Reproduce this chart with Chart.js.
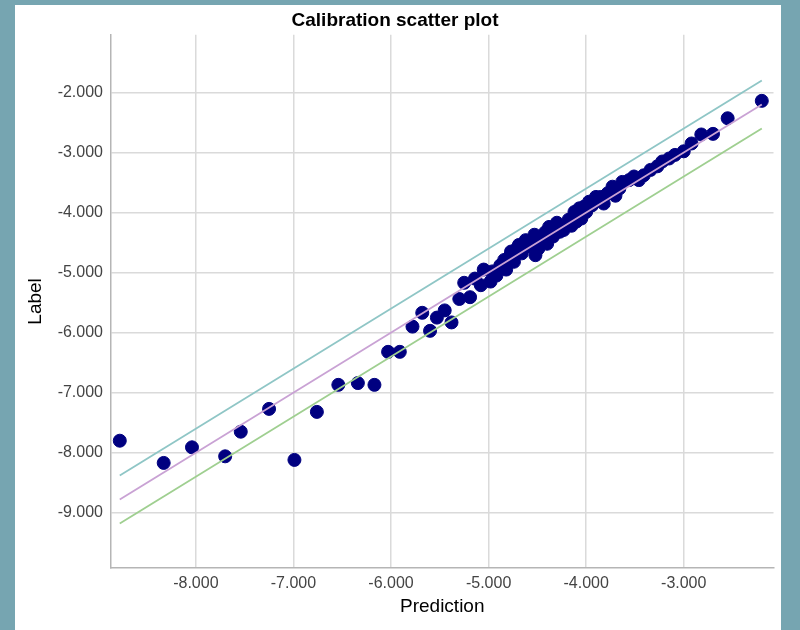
<!DOCTYPE html>
<html><head><meta charset="utf-8">
<script src="https://cdn.jsdelivr.net/npm/chart.js@4.4.1/dist/chart.umd.min.js"></script>
<style>
html,body{margin:0;padding:0;background:#76a5b1;width:800px;height:630px;overflow:hidden}
#panel{position:absolute;left:15px;top:5px;width:766px;height:625px;background:#fff}
canvas{display:block}
</style></head><body>
<div id="panel"><canvas id="c" width="766" height="625"></canvas></div>
<script>
const predictions = [
 -8.78,-8.33,-8.04,-7.70,-7.54,-7.25,-6.99,-6.76,-6.54,-6.34,-6.17,-6.03,-5.91,-5.78,-5.68,-5.60,
 -5.53,-5.45,-5.38,-5.30,-5.19,-5.25,-5.14,-5.08,-5.05,-4.98,-4.96,-4.92,-4.88,-4.84,-4.82,-4.78,
 -4.77,-4.74,-4.71,-4.69,-4.66,-4.62,-4.60,-4.56,-4.53,-4.52,-4.49,-4.46,-4.42,-4.40,-4.38,-4.34,
 -4.30,-4.27,-4.23,-4.18,-4.15,-4.12,-4.10,-4.07,-4.05,-4.02,-4.00,-3.97,-3.94,-3.90,-3.85,-3.82,
 -3.78,-3.73,-3.70,-3.66,-3.63,-3.56,-3.51,-3.46,-3.41,-3.34,-3.27,-3.22,-3.15,-3.09,-3.00,-2.92,
 -2.82,-2.70,-2.55,-2.20
];
const labelValues = [
 -7.80,-8.17,-7.91,-8.06,-7.65,-7.27,-8.12,-7.32,-6.87,-6.84,-6.87,-6.32,-6.32,-5.90,-5.67,-5.97,
 -5.75,-5.63,-5.83,-5.44,-5.41,-5.17,-5.10,-5.21,-4.95,-5.15,-4.98,-5.05,-4.88,-4.79,-4.95,-4.72,
 -4.65,-4.82,-4.60,-4.54,-4.68,-4.46,-4.56,-4.50,-4.37,-4.71,-4.60,-4.45,-4.33,-4.52,-4.24,-4.40,
 -4.17,-4.32,-4.29,-4.12,-4.22,-3.99,-4.15,-3.93,-4.10,-3.90,-3.99,-3.82,-3.88,-3.74,-3.74,-3.85,
 -3.68,-3.57,-3.72,-3.60,-3.49,-3.46,-3.40,-3.46,-3.38,-3.29,-3.23,-3.15,-3.10,-3.04,-2.98,-2.85,
 -2.70,-2.69,-2.43,-2.14
];
const referenceOffsets = [0.4, 0, -0.4];
const xTickValues = [-8, -7, -6, -5, -4, -3];
const yTickValues = [-9, -8, -7, -6, -5, -4, -3, -2];

const lineColors = ['#8fc6c6', '#c9a2d4', '#9fcf90'];
const pMin = Math.min(...predictions), pMax = Math.max(...predictions);

const refSets = referenceOffsets.map((off, i) => ({
  type: 'line',
  data: [{x: pMin, y: pMin + off}, {x: pMax, y: pMax + off}],
  borderColor: lineColors[i],
  borderWidth: 1.8,
  pointRadius: 0,
  fill: false,
  order: 0
}));

const points = predictions.map((p, i) => ({x: p, y: labelValues[i]}));

new Chart(document.getElementById('c'), {
  type: 'scatter',
  data: {
    datasets: [...refSets, {
      type: 'scatter',
      data: points,
      backgroundColor: '#000080',
      borderColor: '#000080',
      pointRadius: 6.5,
      order: 1
    }]
  },
  options: {
    responsive: false,
    animation: false,
    devicePixelRatio: 1,
    layout: {padding: {left: 0, right: 6, top: 0, bottom: 0}},
    plugins: {
      legend: {display: false},
      tooltip: {enabled: false},
      title: {
        display: true,
        text: 'Calibration scatter plot',
        color: '#000',
        font: {family: 'Liberation Sans, Arial, sans-serif', size: 19, weight: 'bold'},
        padding: {top: 4, bottom: 3}
      }
    },
    scales: {
      x: {
        type: 'linear',
        min: -8.87, max: -2.08,
        afterBuildTicks: s => { s.ticks = xTickValues.map(v => ({value: v})); },
        afterFit: s => { s.height = 62; },
        ticks: {
          color: '#444', padding: 6,
          font: {family: 'Liberation Sans, Arial, sans-serif', size: 16},
          callback: v => Number(v).toFixed(3)
        },
        grid: {color: '#dadada', lineWidth: 1.5, drawTicks: false},
        border: {color: '#b5b5b5', width: 1.5},
        title: {
          display: true, text: 'Prediction', color: '#000',
          font: {family: 'Liberation Sans, Arial, sans-serif', size: 19},
          padding: {top: 0, bottom: 12}
        }
      },
      y: {
        type: 'linear',
        min: -9.92, max: -1.04,
        afterBuildTicks: s => { s.ticks = yTickValues.map(v => ({value: v})); },
        afterFit: s => { s.width = 96; },
        ticks: {
          color: '#444', padding: 8,
          font: {family: 'Liberation Sans, Arial, sans-serif', size: 16},
          callback: v => Number(v).toFixed(3)
        },
        grid: {color: '#dadada', lineWidth: 1.5, drawTicks: false},
        border: {color: '#b5b5b5', width: 1.5},
        title: {
          display: true, text: 'Label', color: '#000',
          font: {family: 'Liberation Sans, Arial, sans-serif', size: 19},
          padding: {top: 9, bottom: 0}
        }
      }
    }
  }
});
</script>
</body></html>
